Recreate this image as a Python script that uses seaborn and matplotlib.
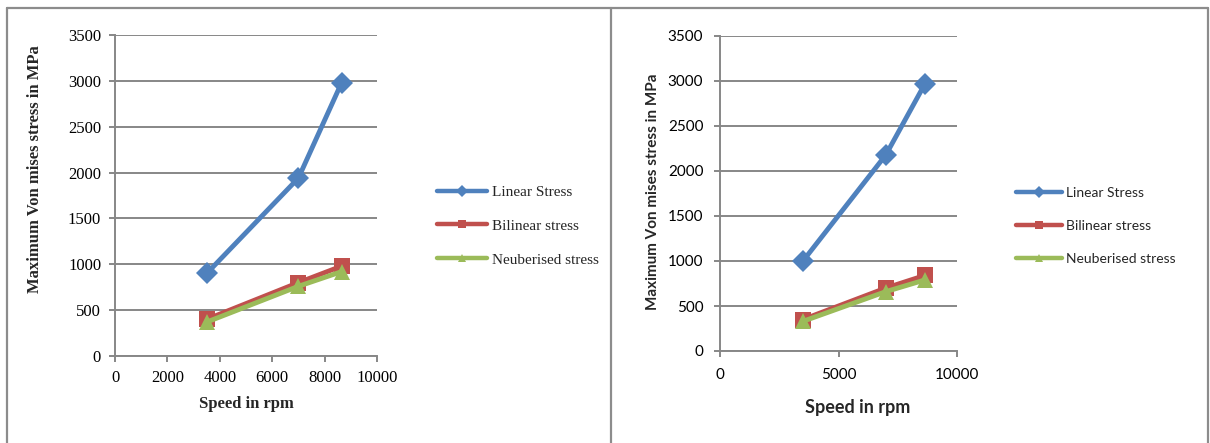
import numpy as np
import pandas as pd
import matplotlib
matplotlib.use("Agg")
import matplotlib.pyplot as plt
from matplotlib.lines import Line2D
import seaborn as sns

# data
speed = [3500, 7000, 8650]
left_linear = [900, 1940, 2980]
left_bilinear = [400, 800, 980]
left_neuber = [370, 760, 920]
right_linear = [1000, 2180, 2970]
right_bilinear = [350, 700, 840]
right_neuber = [330, 660, 790]
series_names = ["Linear Stress", "Bilinear stress", "Neuberised stress"]
xticks_left = [0, 2000, 4000, 6000, 8000, 10000]
xticks_right = [0, 5000, 10000]
yticks = [0, 500, 1000, 1500, 2000, 2500, 3000, 3500]

colors = ["#4F81BD", "#C0504D", "#9BBB59"]
markers = ["D", "s", "^"]
msizes = [11, 11, 12]
grid_col = "#878787"

sns.set_theme(style="white")

fig = plt.figure(figsize=(12.1, 4.43), dpi=100)


def draw_panel(ax, data, xticks, font, tick_fs, lab_fs, leg_fs, ylab_xy, xlab_xy, leg_xy, tickpad, spacing):
    for i, (vals, name) in enumerate(zip(data, series_names)):
        sns.lineplot(x=speed, y=vals, ax=ax, color=colors[i], marker=markers[i],
                     markersize=msizes[i], markeredgewidth=0, linewidth=3.5,
                     legend=False, zorder=3 + i)
    ax.set_xlim(0, 10000)
    ax.set_ylim(0, 3500)
    ax.set_xticks(xticks)
    ax.set_yticks(yticks)
    ax.set_xticklabels([str(t) for t in xticks], family=font, fontsize=tick_fs)
    ax.set_yticklabels([str(t) for t in yticks], family=font, fontsize=tick_fs)
    ax.grid(axis="y", color=grid_col, linewidth=1.4)
    ax.grid(axis="x", visible=False)
    for s in ["top", "right"]:
        ax.spines[s].set_visible(False)
    for s in ["left", "bottom"]:
        ax.spines[s].set_color(grid_col)
        ax.spines[s].set_linewidth(1.4)
    ax.tick_params(axis="both", direction="out", length=4, width=1.4, color=grid_col,
                   labelcolor="black", pad=tickpad, left=True, bottom=True)
    ax.set_xlabel("Speed in rpm", family=font, fontsize=lab_fs, fontweight="bold", va="center")
    ax.set_ylabel("Maximum Von mises stress in MPa", family=font, fontsize=lab_fs,
                  fontweight="bold", va="center")
    ax.xaxis.set_label_coords(xlab_xy[0], xlab_xy[1], transform=fig.transFigure)
    ax.yaxis.set_label_coords(ylab_xy[0], ylab_xy[1], transform=fig.transFigure)
    handles = [Line2D([], [], color=colors[i], marker=markers[i], markersize=6,
                      markeredgewidth=0, linewidth=3.2) for i in range(3)]
    ax.legend(handles, series_names, loc="center left", bbox_to_anchor=leg_xy,
              bbox_transform=fig.transFigure, frameon=False, borderpad=0,
              borderaxespad=0, handlelength=3.3, handletextpad=0.3,
              labelspacing=spacing, prop={"family": font, "size": leg_fs})


ax1 = fig.add_axes([115 / 1210, 1 - 356 / 443, (377 - 115) / 1210, (356 - 35) / 443])
draw_panel(ax1, [left_linear, left_bilinear, left_neuber], xticks_left,
           "Liberation Serif", 12, 12, 11,
           (35 / 1210, 1 - 169 / 443), (246 / 1210, 1 - 404 / 443),
           (437 / 1210, 1 - 226 / 443), 6, 1.32)

ax2 = fig.add_axes([720 / 1210, 1 - 351 / 443, (957 - 720) / 1210, (351 - 36) / 443])
draw_panel(ax2, [right_linear, right_bilinear, right_neuber], xticks_right,
           "Lato", 11, 11, 10,
           (653 / 1210, 1 - 192 / 443), (858 / 1210, 1 - 408 / 443),
           (1016 / 1210, 1 - 226 / 443), 8, 1.5)
ax2.xaxis.label.set_fontsize(13)

# frame lines around the two chart boxes
border = dict(color="#8c8c8c", linewidth=1.6, transform=fig.transFigure)
fig.add_artist(Line2D([7 / 1210, 1208 / 1210], [1 - 7.5 / 443, 1 - 7.5 / 443], **border))
fig.add_artist(Line2D([7 / 1210, 7 / 1210], [0, 1 - 7.5 / 443], **border))
fig.add_artist(Line2D([611 / 1210, 611 / 1210], [0, 1 - 7.5 / 443], **border))
fig.add_artist(Line2D([1208 / 1210, 1208 / 1210], [0, 1 - 7.5 / 443], **border))

fig.savefig("out.png", dpi=100)
